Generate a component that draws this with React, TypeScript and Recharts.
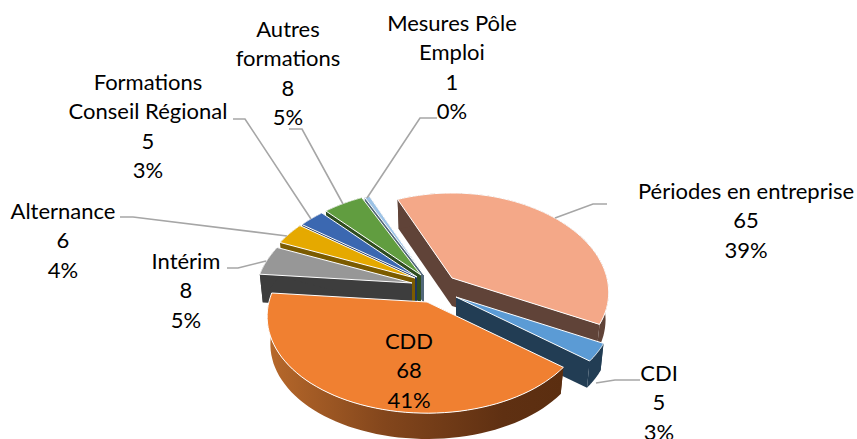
import React from 'react';
import { PieChart, Pie } from 'recharts';

const names = ['Périodes en entreprise', 'CDI', 'CDD', 'Intérim', 'Alternance', 'Formations Conseil Régional', 'Autres formations', 'Mesures Pôle Emploi'];
const values = [65, 5, 68, 8, 6, 5, 8, 1];
const percentLabels = ['39%', '3%', '41%', '5%', '4%', '3%', '5%', '0%'];
const rows = names.map((name, i) => ({ name, value: values[i], pct: percentLabels[i] }));

type Look = { dx: number; dy: number; scale: number; top: string; wall: string; rim?: string };
const looks: Record<string, Look> = {
  'Périodes en entreprise': { dx: 37, dy: -2, scale: 1, top: '#F4A888', wall: '#604338' },
  CDI: { dx: 41, dy: 17, scale: 1, top: '#5B9BD5', wall: '#223D54' },
  CDD: { dx: 12, dy: 22, scale: 1.02, top: '#F08031', wall: '#5F3012', rim: 'url(#cddRim)' },
  'Intérim': { dx: -3, dy: 3, scale: 1, top: '#979797', wall: '#3D3D3D' },
  Alternance: { dx: 0, dy: -2, scale: 1, top: '#E5A900', wall: '#7B5B00' },
  'Formations Conseil Régional': { dx: 2, dy: -3, scale: 1, top: '#3B68B1', wall: '#1F3660' },
  'Autres formations': { dx: 6, dy: -5, scale: 1, top: '#619D40', wall: '#2F4D20' },
  'Mesures Pôle Emploi': { dx: 9, dy: -5, scale: 1, top: '#9DC3E6', wall: '#52687A' },
};

type Callout = { x: number; y: number; lines: string[]; leader?: [number, number][] };
const callouts: Record<string, Callout> = {
  'Périodes en entreprise': { x: 746, y: 191, lines: ['Périodes en entreprise'], leader: [[607, 204], [593, 204], [555, 218]] },
  CDI: { x: 659, y: 373, lines: ['CDI'], leader: [[640, 380], [615, 380], [596, 383]] },
  CDD: { x: 409, y: 341, lines: ['CDD'] },
  'Intérim': { x: 186, y: 261, lines: ['Intérim'], leader: [[227, 268], [238, 268], [266, 261]] },
  Alternance: { x: 63, y: 211, lines: ['Alternance'], leader: [[120, 217], [133, 217], [287, 236]] },
  'Formations Conseil Régional': { x: 148, y: 82, lines: ['Formations', 'Conseil Régional'], leader: [[233, 119], [245, 119], [311, 219]] },
  'Autres formations': { x: 288, y: 29, lines: ['Autres', 'formations'], leader: [[289, 129], [302, 129], [343, 204]] },
  'Mesures Pôle Emploi': { x: 452, y: 23, lines: ['Mesures Pôle', 'Emploi'], leader: [[437, 118], [420, 118], [367, 198]] },
};

const backNames = names.slice(3);
const FRONT_TILT = 0.15;
const RY_RATIO = 97 / 155;
const RY_CURVE = 12 / 155;
const DEPTH = 28;
const FONT = 'Lato, Carlito, sans-serif';

const rim = (cx: number, cy: number, r: number, scale: number, clock: number) => {
  const t = (clock * Math.PI) / 180;
  const v = -Math.cos(t);
  return [
    cx + r * scale * Math.sin(t) * (1 + FRONT_TILT * v),
    cy + r * scale * (RY_RATIO * v + RY_CURVE * v * v),
  ];
};

const makeShape = (allowed: string[]) => (props: any) => {
  const name = props.name ?? props.payload?.name;
  if (!allowed.includes(name)) return <g />;
  const look = looks[name];
  const cx = props.cx + look.dx;
  const cy = props.cy + look.dy;
  const a = 90 - Math.max(props.startAngle, props.endAngle);
  const b = 90 - Math.min(props.startAngle, props.endAngle);
  const pts: number[][] = [];
  for (let i = 0; i <= 60; i++) pts.push(rim(cx, cy, props.outerRadius, look.scale, a + ((b - a) * i) / 60));
  const low = (p: number[]) => [cx + (p[0] - cx) * 0.98, cy + (p[1] - cy) * 0.98 + DEPTH];
  const d = (list: number[][]) => 'M' + list.map((p) => `${p[0].toFixed(1)},${p[1].toFixed(1)}`).join('L') + 'Z';
  const apex = [cx, cy];
  const first = pts[0];
  const last = pts[pts.length - 1];
  return (
    <g>
      <path d={d([apex, first, low(first), low(apex)])} fill={look.wall} />
      <path d={d([apex, last, low(last), low(apex)])} fill={look.wall} />
      <path d={d([...pts, ...pts.slice().reverse().map(low)])} fill={look.rim ?? look.wall} />
      <path d={d([apex, ...pts])} fill={look.top} stroke="#FFFFFF" strokeWidth={1} strokeLinejoin="round" />
    </g>
  );
};

const renderCallout = (props: any) => {
  const c = callouts[props.name ?? props.payload?.name];
  if (!c) return null;
  const all = [...c.lines, String(props.value), props.payload?.pct ?? props.pct];
  return (
    <g>
      {c.leader && (
        <polyline points={c.leader.map((p) => p.join(',')).join(' ')} fill="none" stroke="#A6A6A6" strokeWidth={1.6} />
      )}
      {all.map((t, i) => (
        <text key={i} x={c.x} y={c.y + i * 29.4} dy="0.35em" textAnchor="middle" fontFamily={FONT} fontSize={22} fill="#000000">
          {t}
        </text>
      ))}
    </g>
  );
};

const clockToRecharts = 114;

export default function App() {
  return (
    <div style={{ position: 'absolute', left: 0, top: 0, width: 857, height: 439, background: '#FFFFFF' }}>
      <PieChart width={857} height={439} margin={{ top: 0, right: 0, bottom: 0, left: 0 }}>
        <defs>
          <linearGradient id="cddRim" gradientUnits="userSpaceOnUse" x1="266" y1="0" x2="562" y2="0">
            <stop offset="0" stopColor="#B8692B" />
            <stop offset="0.4" stopColor="#83461C" />
            <stop offset="0.8" stopColor="#5F3012" />
            <stop offset="1" stopColor="#5B2E10" />
          </linearGradient>
        </defs>
        <Pie
          data={rows.slice().reverse()}
          dataKey="value"
          nameKey="name"
          cx={415}
          cy={280}
          outerRadius={155}
          startAngle={clockToRecharts}
          endAngle={clockToRecharts + 360}
          paddingAngle={0}
          stroke="none"
          label={false}
          labelLine={false}
          shape={makeShape(backNames)}
          isAnimationActive={false}
        />
        <Pie
          data={rows}
          dataKey="value"
          nameKey="name"
          cx={415}
          cy={280}
          outerRadius={155}
          startAngle={clockToRecharts}
          endAngle={clockToRecharts - 360}
          paddingAngle={0}
          stroke="none"
          label={renderCallout}
          labelLine={false}
          shape={makeShape(names.slice(0, 3))}
          isAnimationActive={false}
        />
      </PieChart>
    </div>
  );
}
